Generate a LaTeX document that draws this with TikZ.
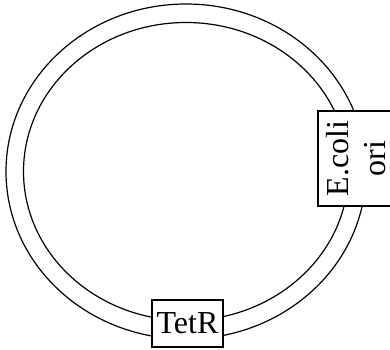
\documentclass[tikz,border=0pt]{standalone}
\usepackage{fontspec}
\setmainfont{Liberation Serif}
\begin{document}
\begin{tikzpicture}[x=1pt,y=1pt, line width=1.2pt,
  genebox/.style={draw, rectangle, fill=white, inner sep=0pt, font=\fontsize{32}{37}\selectfont}]
\useasboundingbox (0,0) rectangle (390,349);
\coordinate (o) at (186,177.5);
\draw (o) ellipse [x radius=180, y radius=167.5];
\draw (o) ellipse [x radius=162.5, y radius=149];
\node[genebox, rotate=90, align=center, minimum width=95pt, minimum height=76pt] (ori) at (356,190.5) {E.coli\\ori};
\node[genebox, minimum width=71pt, minimum height=47pt] (tetr) at (187.5,25.5) {TetR};
\end{tikzpicture}
\end{document}
